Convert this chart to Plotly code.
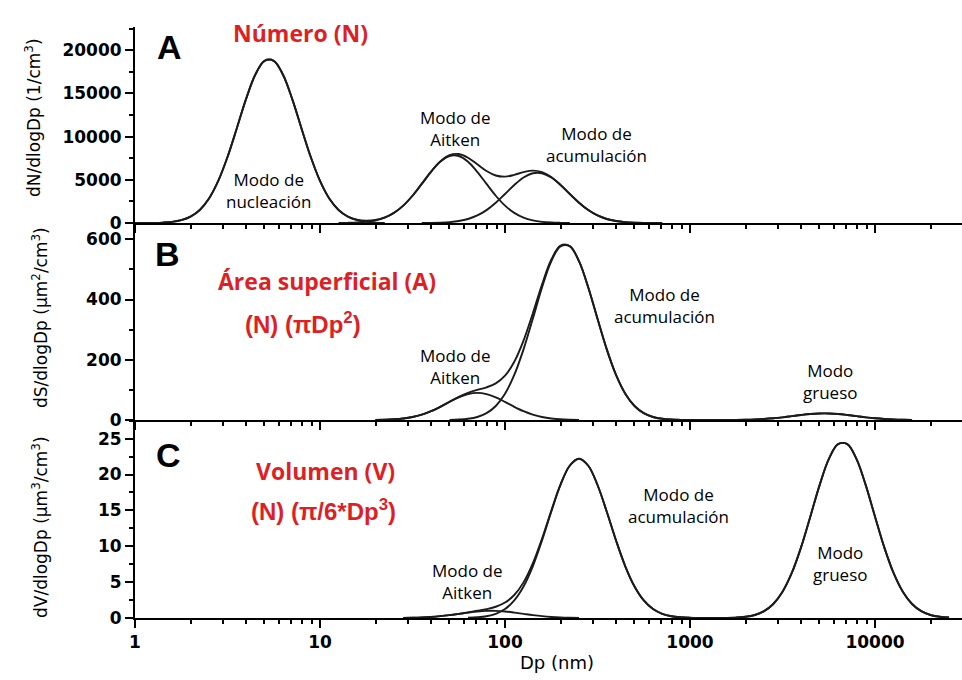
import plotly.graph_objects as go

# ---------------- data ----------------
# Diameter grid Dp (nm), log-spaced in steps of 0.05 decade, index 0 = 1 nm
DP = [1.0, 1.122, 1.259, 1.413, 1.585, 1.778, 1.995, 2.239, 2.512, 2.818,
      3.162, 3.548, 3.981, 4.467, 5.012, 5.623, 6.31, 7.079, 7.943, 8.913,
      10.0, 11.22, 12.59, 14.13, 15.85, 17.78, 19.95, 22.39, 25.12, 28.18,
      31.62, 35.48, 39.81, 44.67, 50.12, 56.23, 63.1, 70.79, 79.43, 89.13,
      100.0, 112.2, 125.9, 141.3, 158.5, 177.8, 199.5, 223.9, 251.2, 281.8,
      316.2, 354.8, 398.1, 446.7, 501.2, 562.3, 631.0, 707.9, 794.3, 891.3,
      1000.0, 1122.0, 1259.0, 1413.0, 1585.0, 1778.0, 1995.0, 2239.0, 2512.0, 2818.0,
      3162.0, 3548.0, 3981.0, 4467.0, 5012.0, 5623.0, 6310.0, 7079.0, 7943.0, 8913.0,
      10000.0, 11220.0, 12590.0, 14130.0, 15850.0, 17780.0, 19950.0, 22390.0, 25120.0, 28180.0]

# Panel A : number distribution dN/dlogDp (1/cm3)
A_NUC_START = 2
A_NUC = [17, 49, 133, 327, 735, 1512, 2839, 4872, 7638, 10948, 14341, 17170, 18787,
         18787, 17170, 14341, 10948, 7638, 4872, 2839, 1512, 735, 327, 133, 49, 17]
A_AIT_START = 22
A_AIT = [7, 20, 55, 135, 304, 625, 1173, 2013, 3156, 4523, 5925, 7094, 7762,
         7762, 7094, 5925, 4523, 3156, 2013, 1173, 625, 304, 135, 55, 20, 7]
A_ACC_START = 31
A_ACC = [5, 15, 41, 100, 226, 464, 871, 1495, 2344, 3359, 4400, 5269, 5765,
         5765, 5269, 4400, 3359, 2344, 1495, 871, 464, 226, 100, 41, 15, 5]
A_TOT_START = 0
A_TOT = [2, 6, 17, 49, 133, 327, 735, 1512, 2839, 4872, 7638, 10948, 14341, 17170,
         18787, 18787, 17170, 14341, 10948, 7638, 4872, 2839, 1519, 755, 382, 268,
         353, 642, 1179, 2015, 3156, 4528, 5940, 7135, 7862, 7988, 7558, 6796, 6018,
         5500, 5372, 5573, 5894, 6069, 5900, 5324, 4420, 3366, 2346, 1495, 871, 464,
         226, 100, 41, 15, 5, 1]

# Panel B : surface distribution dS/dlogDp (um2/cm3)
B_AIT_START = 26
B_AIT = [0.4, 1.0, 2.3, 5.0, 9.9, 17.8, 29.2, 43.8, 60.0, 75.2, 86.0, 90.0, 86.0,
         75.2, 60.0, 43.8, 29.2, 17.8, 9.9, 5.0, 2.3, 1.0, 0.4]
B_ACC_START = 34
B_ACC = [0.5, 1.5, 4.1, 10.0, 22.6, 46.4, 87.1, 149.5, 234.4, 335.9, 440.1, 526.9, 576.5,
         576.5, 526.9, 440.1, 335.9, 234.4, 149.5, 87.1, 46.4, 22.6, 10.0, 4.1, 1.5, 0.5]
B_COA_START = 65
B_COA = [0.38, 0.85, 1.75, 3.29, 5.64, 8.84, 12.68, 16.61, 19.88, 21.75,
         21.75, 19.88, 16.61, 12.68, 8.84, 5.64, 3.29, 1.75, 0.85, 0.38]
B_TOT_START = 26
B_TOT = [0.4, 1.0, 2.3, 5.0, 9.9, 17.8, 29.2, 43.8, 60.5, 76.7, 90.1, 100.0, 108.6,
         121.6, 147.1, 193.3, 263.6, 353.7, 450.0, 531.9, 578.8, 577.5, 527.3, 440.1,
         335.9, 234.4, 149.5, 87.1, 46.4, 22.6, 10.0, 4.1, 1.5, 0.5, 0.0, 0.0, 0.0,
         0.05, 0.15, 0.38, 0.85, 1.75, 3.29, 5.64, 8.84, 12.68, 16.61, 19.88, 21.75,
         21.75, 19.88, 16.61, 12.68, 8.84, 5.64, 3.29, 1.75, 0.85, 0.38]

# Panel C : volume distribution dV/dlogDp (um3/cm3)
C_AIT_START = 29
C_AIT = [0.017, 0.039, 0.080, 0.149, 0.256, 0.402, 0.576, 0.755, 0.904, 0.989,
         0.989, 0.904, 0.755, 0.576, 0.402, 0.256, 0.149, 0.080, 0.039, 0.017]
C_ACC_START = 36
C_ACC = [0.03, 0.10, 0.25, 0.58, 1.25, 2.45, 4.39, 7.21, 10.81, 14.81, 18.54, 21.22, 22.2,
         21.22, 18.54, 14.81, 10.81, 7.21, 4.39, 2.45, 1.25, 0.58, 0.25, 0.10, 0.03]
C_COA_START = 65
C_COA = [0.06, 0.17, 0.42, 0.95, 1.95, 3.66, 6.28, 9.85, 14.12, 18.49, 22.14, 24.23,
         24.23, 22.14, 18.49, 14.12, 9.85, 6.28, 3.66, 1.95, 0.95, 0.42, 0.17, 0.06]
C_TOT_START = 29
C_TOT = [0.017, 0.039, 0.080, 0.149, 0.256, 0.402, 0.576, 0.785, 1.004, 1.239, 1.569,
         2.154, 3.205, 4.966, 7.612, 11.066, 14.959, 18.62, 21.259, 22.217, 21.22, 18.54,
         14.81, 10.81, 7.21, 4.39, 2.45, 1.25, 0.58, 0.25, 0.10, 0.03, 0.0, 0.0, 0.0, 0.0,
         0.06, 0.17, 0.42, 0.95, 1.95, 3.66, 6.28, 9.85, 14.12, 18.49, 22.14, 24.23,
         24.23, 22.14, 18.49, 14.12, 9.85, 6.28, 3.66, 1.95, 0.95, 0.42, 0.17, 0.06]

# Tick labels
X_MAJOR = [1, 10, 100, 1000, 10000]
X_MAJOR_TEXT = ["1", "10", "100", "1000", "10000"]
X_MINOR = [2, 3, 4, 5, 6, 7, 8, 9, 20, 30, 40, 50, 60, 70, 80, 90,
           200, 300, 400, 500, 600, 700, 800, 900,
           2000, 3000, 4000, 5000, 6000, 7000, 8000, 9000, 20000]

# ---------------- figure ----------------
W, H = 962, 680
ML = 135
PW = W - ML


def P(px, py):
    """pixel -> paper coordinates"""
    return (px - ML) / PW, 1 - py / H


LINE = dict(color="#1b1b1b", width=1.9)

fig = go.Figure()

panels = [
    ("x", "y", [(A_TOT_START, A_TOT), (A_NUC_START, A_NUC), (A_AIT_START, A_AIT), (A_ACC_START, A_ACC)]),
    ("x2", "y2", [(B_TOT_START, B_TOT), (B_AIT_START, B_AIT), (B_ACC_START, B_ACC), (B_COA_START, B_COA)]),
    ("x3", "y3", [(C_TOT_START, C_TOT), (C_AIT_START, C_AIT), (C_ACC_START, C_ACC), (C_COA_START, C_COA)]),
]
for xa, ya, series in panels:
    for start, vals in series:
        fig.add_trace(go.Scatter(x=DP[start:start + len(vals)], y=vals, mode="lines",
                                 line=dict(shape="spline", smoothing=1.0, **LINE),
                                 xaxis=xa, yaxis=ya, showlegend=False, hoverinfo="skip"))

TICKFONT = dict(family="DejaVu Sans", size=17, color="black", weight="bold")


def xaxis(anchor, labels):
    return dict(type="log", range=[0, 4.47], anchor=anchor, domain=[0, 1],
                showline=True, linecolor="black", linewidth=2, mirror=False,
                ticks="outside", ticklen=8, tickwidth=2, tickcolor="black",
                tickmode="array", tickvals=X_MAJOR, ticktext=X_MAJOR_TEXT,
                showticklabels=labels, tickfont=TICKFONT, automargin=False,
                showgrid=False, zeroline=False,
                minor=dict(tickmode="array", tickvals=X_MINOR, ticks="outside",
                           ticklen=4, tickwidth=1.5, tickcolor="black", showgrid=False))


def yaxis(anchor, dom, rng, dtick, mdtick):
    return dict(anchor=anchor, domain=dom, range=rng, dtick=dtick, tick0=0,
                tickformat="d", showline=True, linecolor="black", linewidth=2,
                ticks="outside", ticklen=8, tickwidth=2, tickcolor="black",
                tickfont=TICKFONT, showgrid=False, zeroline=False, automargin=False,
                minor=dict(dtick=mdtick, tick0=0, ticks="outside", ticklen=4,
                           tickwidth=1.5, tickcolor="black", showgrid=False))


fig.update_layout(
    width=W, height=H, autosize=False,
    margin=dict(l=ML, r=0, t=0, b=0, pad=0, autoexpand=False),
    paper_bgcolor="white", plot_bgcolor="white",
    xaxis=xaxis("y", False),
    xaxis2=xaxis("y2", False),
    xaxis3=xaxis("y3", True),
    yaxis=yaxis("x", [1 - 223 / H, 1 - 27 / H], [0, 22700], 5000, 2500),
    yaxis2=yaxis("x2", [1 - 420 / H, 1 - 223 / H], [0, 654], 200, 100),
    yaxis3=yaxis("x3", [1 - 618 / H, 1 - 420 / H], [0, 27.6], 5, 2.5),
)

RED = "#dd1f26"
ann = []


def add(text, px, py, size, color="black", family="Open Sans", bold=False, angle=0):
    x, y = P(px, py)
    t = f"<b>{text}</b>" if bold else text
    ann.append(dict(text=t, x=x, y=y, xref="paper", yref="paper", showarrow=False,
                    xanchor="center", yanchor="middle", align="center", textangle=angle,
                    font=dict(family=family, size=size, color=color)))


# panel letters
add("A", 169, 47, 34, family="Liberation Sans", bold=True)
add("B", 167, 254, 34, family="Liberation Sans", bold=True)
add("C", 168, 455, 34, family="Liberation Sans", bold=True)

# red titles
add("Número (N)", 300, 33, 23, RED, bold=True)
add("Área superficial (A)", 327, 281, 23, RED, bold=True)
add("(N) (πDp<sup>2</sup>)", 303, 323, 24, RED, family="Liberation Sans", bold=True)
add("Volumen (V)", 325, 471, 23, RED, bold=True)
add("(N) (π/6*Dp<sup>3</sup>)", 323, 510, 24, RED, family="Liberation Sans", bold=True)

# mode labels
add("Modo de<br>nucleación", 268, 190, 17)
add("Modo de<br>Aitken", 455, 128, 17)
add("Modo de<br>acumulación", 596, 144, 17)
add("Modo de<br>Aitken", 455, 366, 17)
add("Modo de<br>acumulación", 664, 305, 17)
add("Modo<br>grueso", 830, 381, 17)
add("Modo de<br>Aitken", 467, 581, 17)
add("Modo de<br>acumulación", 678, 505, 17)
add("Modo<br>grueso", 840, 563, 17)

# axis titles
add("dN/dlogDp (1/cm<sup>3</sup>)", 33, 118, 17, family="DejaVu Sans", angle=-90)
add("dS/dlogDp (μm<sup>2</sup>/cm<sup>3</sup>)", 40, 318, 17, family="DejaVu Sans", angle=-90)
add("dV/dlogDp (μm<sup>3</sup>/cm<sup>3</sup>)", 40, 527, 17, family="DejaVu Sans", angle=-90)
add("Dp (nm)", 557, 662, 18, family="DejaVu Sans")

fig.update_layout(annotations=ann)

fig.write_html("out.html", config={"displayModeBar": False, "responsive": False},
               post_script="document.body.style.margin='0px';document.body.style.overflow='hidden';")
